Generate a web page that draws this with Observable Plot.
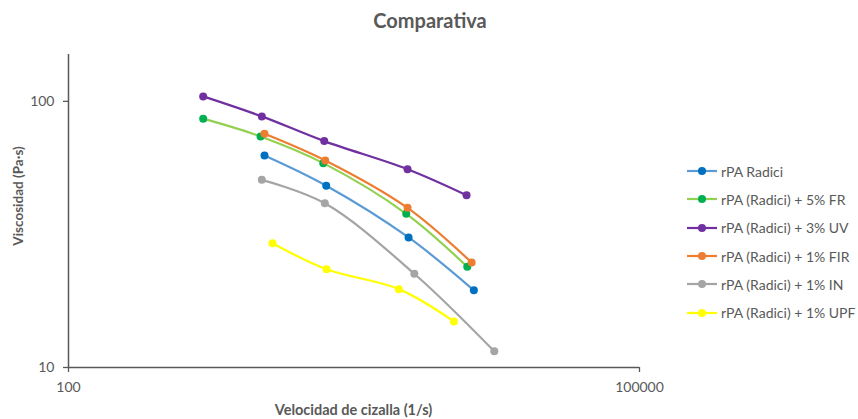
<!DOCTYPE html>
<html><head><meta charset="utf-8">
<script src="https://cdn.jsdelivr.net/npm/d3@7"></script>
<script src="https://cdn.jsdelivr.net/npm/@observablehq/plot@0.6"></script>
<style>
body{margin:0;background:#fff;font-family:Lato,"Open Sans",sans-serif;}
#wrap{position:relative;width:858px;height:419px;overflow:hidden;}
#title{position:absolute;left:0;width:860px;top:8px;text-align:center;font-size:20px;font-weight:bold;color:#595959;}
#xlab{position:absolute;left:68px;width:571px;top:401px;text-align:center;font-size:14.5px;font-weight:bold;color:#595959;}
#ylab{position:absolute;left:18px;top:196px;transform:translate(-50%,-50%) rotate(-90deg);white-space:nowrap;font-size:13.5px;font-weight:bold;color:#595959;}
#legend{position:absolute;left:687px;top:157px;font-size:14px;color:#595959;}
.item{height:28.3px;display:flex;align-items:center;}
.item svg{margin-right:4px;}
</style></head><body><div id="wrap"><div id="title"></div><div id="xlab"></div><div id="ylab"></div><div id="legend"></div></div>
<script>
const titleText = "Comparativa";
const xLabel = "Velocidad de cizalla (1/s)";
const yLabel = "Viscosidad (Pa·s)";
const seriesNames = ["rPA Radici", "rPA (Radici) + 5% FR", "rPA (Radici) + 3% UV", "rPA (Radici) + 1% FIR", "rPA (Radici) + 1% IN", "rPA (Radici) + 1% UPF"];
const lineColors = ["#5B9BD5", "#92D050", "#7030A0", "#ED7D31", "#A5A5A5", "#FFFF00"];
const markerColors = ["#0070C0", "#00B050", "#7030A0", "#ED7D31", "#A5A5A5", "#FFFF00"];
const xRadici = [1071, 2260, 6120, 13480];
const yRadici = [62.6, 48.2, 30.8, 19.5];
const xFR = [510, 1021, 2180, 5950, 12450];
const yFR = [86.1, 73.8, 58.6, 37.8, 23.9];
const xUV = [510, 1037, 2206, 6043, 12340];
const yUV = [104.4, 87.8, 70.9, 55.6, 44.4];
const xFIR = [1071, 2233, 6043, 13120];
const yFIR = [75.6, 60.0, 39.8, 24.8];
const xIN = [1037, 2222, 6560, 17260];
const yIN = [50.7, 41.4, 22.5, 11.5];
const xUPF = [1180, 2268, 5441, 10590];
const yUPF = [29.3, 23.4, 19.7, 14.9];
const xTicks = [100, 100000];
const yTicks = [10, 100];

const xs = [xRadici, xFR, xUV, xFIR, xIN, xUPF];
const ys = [yRadici, yFR, yUV, yFIR, yIN, yUPF];
const data = [];
seriesNames.forEach((s, i) => xs[i].forEach((x, j) => data.push({series: s, x, y: ys[i][j], line: lineColors[i], marker: markerColors[i]})));

const chart = Plot.plot({
  width: 858, height: 419,
  marginLeft: 68, marginRight: 219, marginTop: 54, marginBottom: 52,
  style: {fontFamily: "Lato, 'Open Sans', sans-serif", fontSize: "14px", color: "#595959", background: "transparent"},
  x: {type: "log", domain: [100, 100000]},
  y: {type: "log", domain: [10, 150]},
  color: {type: "identity"},
  marks: [
    Plot.axisX({ticks: xTicks, tickFormat: d => String(d), tickSize: 5, tickPadding: 10, label: null, stroke: "#595959", strokeWidth: 1.3}),
    Plot.axisY({ticks: yTicks, tickFormat: d => String(d), tickSize: 5, tickPadding: 9, label: null, stroke: "#595959", strokeWidth: 1.3}),
    Plot.ruleY([10], {stroke: "#595959", strokeWidth: 1.5}),
    Plot.ruleX([100], {stroke: "#595959", strokeWidth: 1.5}),
    Plot.line(data, {x: "x", y: "y", z: "series", stroke: "line", strokeWidth: 2.2, curve: "catmull-rom"}),
    Plot.dot(data, {x: "x", y: "y", fill: "marker", r: 4})
  ]
});
chart.style.position = "absolute"; chart.style.left = "0"; chart.style.top = "0";
const wrap = document.getElementById("wrap");
wrap.insertBefore(chart, wrap.firstChild);
document.getElementById("title").textContent = titleText;
document.getElementById("xlab").textContent = xLabel;
document.getElementById("ylab").textContent = yLabel;
const legend = d3.select("#legend");
seriesNames.forEach((s, i) => {
  const it = legend.append("div").attr("class", "item");
  const sv = it.append("svg").attr("width", 30).attr("height", 10);
  sv.append("line").attr("x1", 0).attr("x2", 30).attr("y1", 5).attr("y2", 5).attr("stroke", lineColors[i]).attr("stroke-width", 2.2);
  sv.append("circle").attr("cx", 15).attr("cy", 5).attr("r", 4).attr("fill", markerColors[i]);
  it.append("span").text(s);
});
</script></body></html>
